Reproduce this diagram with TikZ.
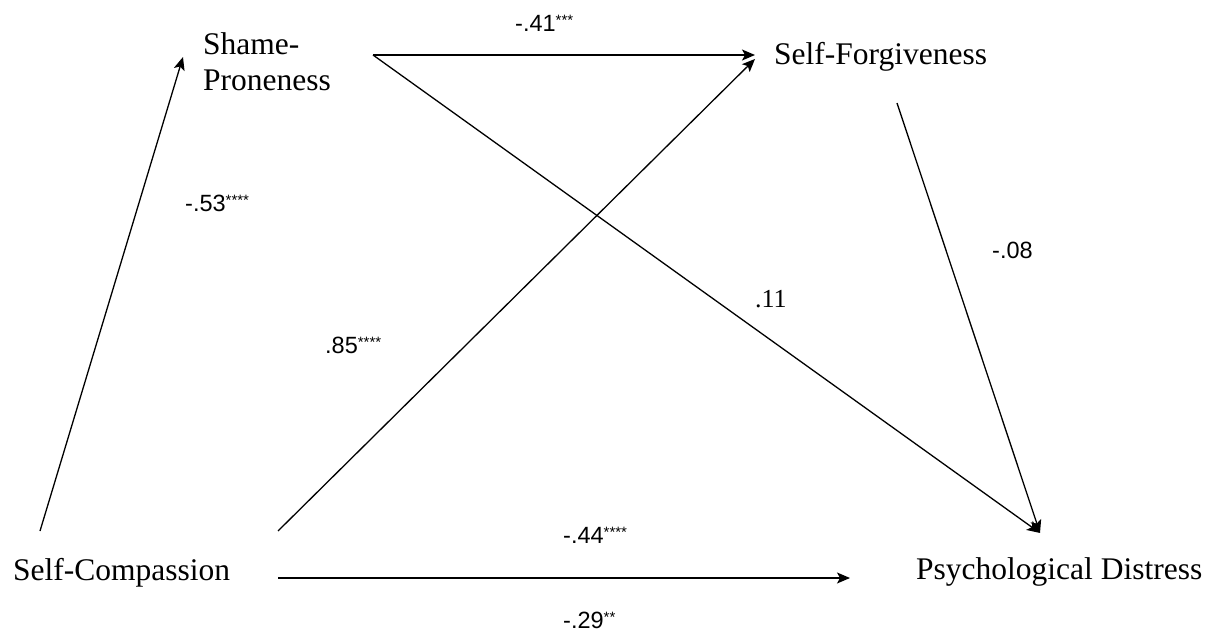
\documentclass[tikz,border=0pt]{standalone}
\usepackage{fontspec}
\setmainfont{Liberation Serif}
\newfontfamily\lblfont{Liberation Sans}
\usetikzlibrary{arrows.meta}
\newcommand{\stars}[1]{\raisebox{6pt}{\fontsize{15}{15}\selectfont #1}}
\tikzset{
  varbox/.style={anchor=base west, inner sep=0pt, font=\fontsize{31.5}{36}\selectfont, align=left},
  lbl/.style={anchor=base west, inner sep=0pt, font=\lblfont\fontsize{23.5}{26}\selectfont},
  lbls/.style={anchor=base west, inner sep=0pt, font=\fontsize{26}{28}\selectfont},
  path/.style={line width=1.3pt, -{Stealth[length=13pt,width=11pt,inset=3pt]}}
}
\begin{document}
\begin{tikzpicture}[x=1pt,y=-1pt]
\useasboundingbox (0,0) rectangle (1215,636);
% variables
\node[varbox] (sh1) at (203,55) {Shame-};
\node[varbox] (sh2) at (203,91) {Proneness};
\node[varbox] (sf) at (774,65) {Self-Forgiveness};
\node[varbox] (sc) at (13,580) {Self-Compassion};
\node[varbox] (pd) at (916,579) {Psychological Distress};
% connector end points
\coordinate (shout) at (373,55);
\coordinate (sfin) at (755,55);
\coordinate (sfin2) at (755,59);
\coordinate (shin) at (183,57);
\coordinate (scout1) at (40,531);
\coordinate (scout2) at (278,531);
\coordinate (scout3) at (278,578);
\coordinate (pdin) at (1040,533);
\coordinate (pdin2) at (850,578);
\coordinate (sfout) at (897,103);
% connectors
\draw[path] (scout1) -- (shin);
\draw[path] (shout) -- (sfin);
\draw[path] (shout) -- (pdin);
\draw[path] (scout2) -- (sfin2);
\draw[path] (sfout) -- (pdin);
\draw[path] (scout3) -- (pdin2);
% labels
\node[lbl] (l41) at (515,32) {-.41\stars{***}};
\node[lbl] (l53) at (185,212) {-.53\stars{****}};
\node[lbl] (l85) at (325,353) {.85\stars{****}};
\node[lbls] (l11) at (755,307) {.11};
\node[lbl] (l08) at (992,259) {-.08};
\node[lbl] (l44) at (563,543) {-.44\stars{****}};
\node[lbl] (l29) at (563,628) {-.29\stars{**}};
\end{tikzpicture}
\end{document}
